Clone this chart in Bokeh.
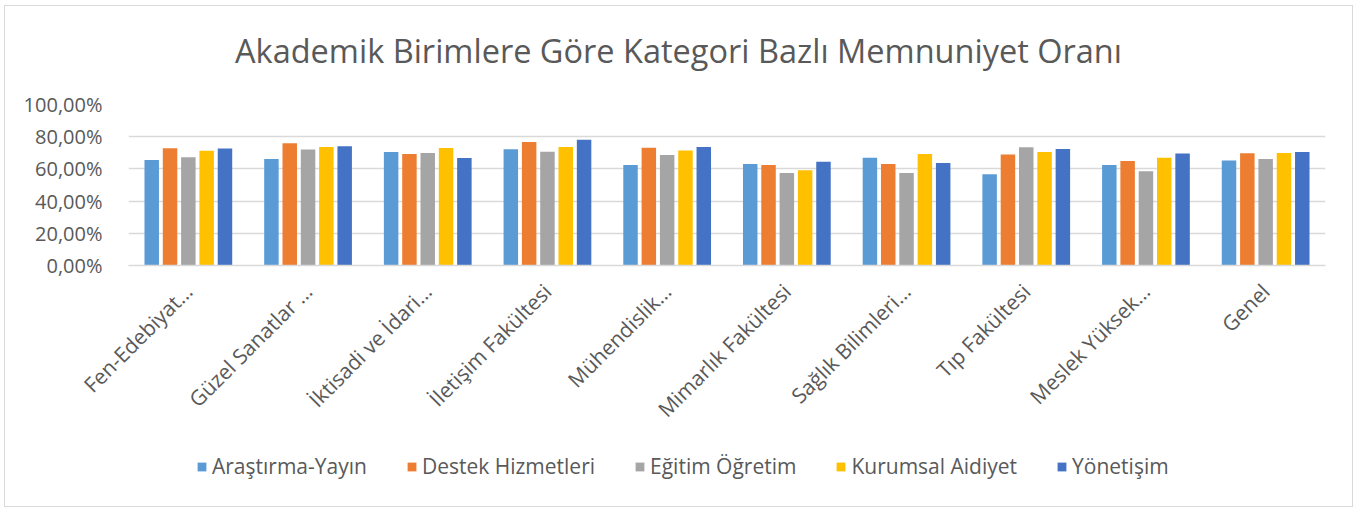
from bokeh.plotting import figure
from bokeh.layouts import column
from bokeh.models import (FactorRange, ColumnDataSource, CustomJSTickFormatter, FixedTicker,
                          Legend, LegendItem, Label)
from bokeh.transform import dodge
from bokeh.embed import file_html
from bokeh.resources import INLINE
import math

categories = ["Fen-Edebiyat…", "Güzel Sanatlar …", "İktisadi ve İdari…", "İletişim Fakültesi",
              "Mühendislik…", "Mimarlık Fakültesi", "Sağlık Bilimleri…", "Tıp Fakültesi",
              "Meslek Yüksek…", "Genel"]
series_names = ["Araştırma-Yayın", "Destek Hizmetleri", "Eğitim Öğretim", "Kurumsal Aidiyet", "Yönetişim"]
arastirma = [65.6, 66.2, 70.5, 72.2, 62.5, 63.1, 67.0, 56.7, 62.5, 65.2]
destek    = [72.8, 75.9, 69.3, 76.7, 73.2, 62.5, 63.1, 68.9, 64.9, 69.7]
egitim    = [67.2, 72.0, 69.9, 70.7, 68.7, 57.5, 57.5, 73.4, 58.6, 66.2]
kurumsal  = [71.3, 73.6, 73.0, 73.6, 71.5, 59.2, 69.3, 70.5, 67.0, 69.9]
yonetisim = [72.6, 74.0, 66.8, 78.1, 73.6, 64.5, 63.7, 72.4, 69.5, 70.5]
y_ticks = [0, 20, 40, 60, 80, 100]
colors = ["#5B9BD5", "#ED7D31", "#A5A5A5", "#FFC000", "#4472C4"]
title_text = "Akademik Birimlere Göre Kategori Bazlı Memnuniyet Oranı"

FONT = "Open Sans"
TXT = "#595959"
W = 1347
BL, BR = 123, 27

src = ColumnDataSource(dict(cat=categories, s0=arastirma, s1=destek, s2=egitim, s3=kurumsal, s4=yonetisim))
xr = FactorRange(factors=categories, range_padding=0)

# title strip
pt = figure(x_range=(0, 1), y_range=(0, 1), width=W, height=70, output_backend="svg",
            toolbar_location=None, x_axis_type=None, y_axis_type=None,
            min_border_left=BL, min_border_right=BR, min_border_top=0, min_border_bottom=0)
pt.outline_line_color = None
pt.xgrid.visible = False
pt.ygrid.visible = False
pt.add_layout(Label(x=550, y=26, x_units="screen", y_units="screen", text=title_text,
                    text_align="center", text_baseline="middle", text_font=FONT,
                    text_font_size="32.5px", text_color=TXT))

# main chart
p = figure(x_range=xr, y_range=(0, 100),
           width=W, height=370, output_backend="svg", toolbar_location=None,
           min_border_left=BL, min_border_right=BR, min_border_top=28, min_border_bottom=181)
p.outline_line_color = None
p.background_fill_color = "white"

offsets = [-0.306, -0.153, 0.0, 0.153, 0.306]
for i, col in enumerate(colors):
    p.vbar(x=dodge("cat", offsets[i], range=xr), top="s%d" % i, width=0.121,
           source=src, fill_color=col, line_color=None)

p.yaxis.ticker = FixedTicker(ticks=y_ticks)
p.yaxis.formatter = CustomJSTickFormatter(code="return tick.toFixed(2).replace('.', ',') + '%';")
p.yaxis.axis_line_color = None
p.yaxis.major_tick_line_color = None
p.yaxis.minor_tick_line_color = None
p.yaxis.major_label_standoff = 20
p.yaxis.major_label_text_font = FONT
p.yaxis.major_label_text_font_size = "20px"
p.yaxis.major_label_text_color = TXT

p.xaxis.axis_line_color = "#d9d9d9"
p.xaxis.axis_line_width = 1.5
p.xaxis.major_tick_line_color = None
p.xaxis.minor_tick_line_color = None
p.xaxis.major_label_orientation = math.pi / 4
p.xaxis.major_label_standoff = 16
p.xaxis.major_label_text_font = FONT
p.xaxis.major_label_text_font_size = "21px"
p.xaxis.major_label_text_color = TXT

p.xgrid.grid_line_color = None
p.ygrid.grid_line_color = "#d9d9d9"
p.ygrid.grid_line_width = 1.5

# legend strip: same series as hidden renderers, only the legend is shown
pl = figure(x_range=xr, y_range=(0, 100), width=W, height=60, output_backend="svg",
            toolbar_location=None, x_axis_type=None, y_axis_type=None,
            min_border_left=BL, min_border_right=BR, min_border_top=0, min_border_bottom=0)
pl.outline_line_color = None
pl.xgrid.visible = False
pl.ygrid.visible = False
items = []
for i, (name, col) in enumerate(zip(series_names, colors)):
    r = pl.vbar(x=dodge("cat", offsets[i], range=xr), top="s%d" % i, width=0.121,
                source=src, fill_color=col, line_color=None, visible=False)
    items.append(LegendItem(label=name, renderers=[r]))
lg = Legend(items=items, orientation="horizontal", location=(68, 26), margin=0, padding=0,
            spacing=39, glyph_width=11, glyph_height=11, label_standoff=5,
            label_text_font=FONT, label_text_font_size="21px", label_text_color=TXT,
            border_line_color=None, background_fill_alpha=0, inactive_fill_alpha=0)
pl.add_layout(lg, "center")

layout = column(pt, p, pl, spacing=0)
layout.margin = (5, 0, 0, 4)
layout.styles = {"border": "1px solid #d9d9d9"}

open("out.html", "w").write(file_html(layout, INLINE))
